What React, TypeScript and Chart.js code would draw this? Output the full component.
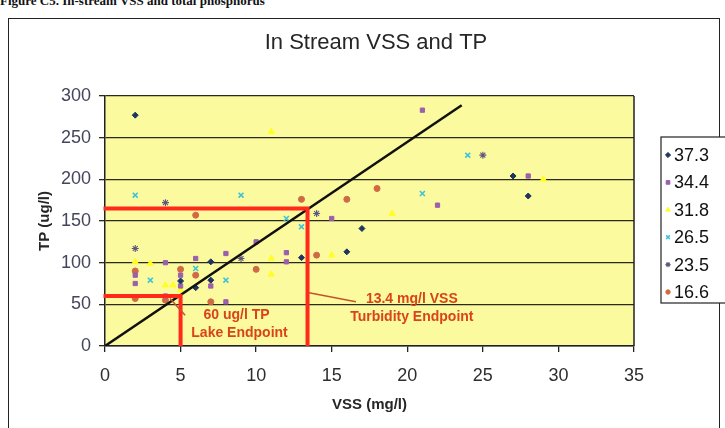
import React, { useEffect, useRef } from "react";
import { Chart, registerables } from "chart.js";
import { drawPoint } from "chart.js/helpers";

Chart.register(...registerables);

const seriesLabels = ["37.3", "34.4", "31.8", "26.5", "23.5", "16.6"];
const seriesColors = ["#1F3560", "#9A5FAE", "#FFFF20", "#3CC3DA", "#5E587E", "#CF6A45"];
const seriesStyles = ["rectRot", "rect", "triangle", "crossRot", "star", "circle"];

const s373X = [2, 27, 28, 17, 16, 13, 7, 6, 7, 5];
const s373Y = [277, 204, 180, 141, 113, 106, 101, 70, 79, 78];
const s344X = [21, 28, 22, 15, 10, 8, 12, 12, 4, 8, 5, 5, 2, 2, 4, 7, 6];
const s344Y = [283, 204, 169, 153, 125, 111, 112, 101, 100, 53, 85, 72, 85, 75, 60, 72, 105];
const s318X = [11, 29, 19, 15, 11, 11, 2, 3, 4, 4.5, 5];
const s318Y = [257, 200, 159, 109, 105, 86, 101, 99, 73, 73, 67];
const s265X = [24, 21, 9, 2, 12, 13, 8, 3, 6];
const s265Y = [229, 183, 181, 181, 153, 143, 79, 79, 93];
const s235X = [25, 14, 4, 2, 9];
const s235Y = [229, 159, 172, 117, 105];
const s166X = [18, 16, 13, 6, 14, 10, 7, 2, 2, 5, 6, 4];
const s166Y = [189, 176, 176, 157, 109, 92, 53, 57, 90, 92, 85, 55];

const seriesX = [s373X, s344X, s318X, s265X, s235X, s166X];
const seriesY = [s373Y, s344Y, s318Y, s265Y, s235Y, s166Y];

const trendX = [0, 23.6];
const trendY = [0, 289];

const lakeTP = 60;
const lakeVSS = 5;
const turbVSS = 13.4;
const turbTP = 165;

const chartTitle = "In Stream VSS and TP";
const xTitle = "VSS (mg/l)";
const yTitle = "TP (ug/l)";
const lakeText = ["60 ug/l TP", "Lake Endpoint"];
const turbText = ["13.4 mg/l VSS", "Turbidity Endpoint"];
const captionText = "Figure C5. In-stream VSS and total phosphorus";

const FONT = "'Liberation Sans', Arial, sans-serif";

const zip = (xs: number[], ys: number[]) => xs.map((x, i) => ({ x, y: ys[i] }));

const radiusFor = (s: string) => (s === "crossRot" ? 3.5 : s === "star" ? 3.5 : s === "triangle" ? 3.5 : 3);
const borderFor = (s: string) => (s === "crossRot" ? 1.6 : s === "star" ? 1.1 : 1);

const bgPlugin = {
  id: "bgPlugin",
  beforeDraw(chart: any) {
    const { ctx, chartArea: a } = chart;
    ctx.save();
    ctx.fillStyle = "#FCFA9E";
    ctx.fillRect(a.left, a.top, a.right - a.left, a.bottom - a.top);
    ctx.restore();
  },
  afterDraw(chart: any) {
    const { ctx, chartArea: a, scales } = chart;
    const xs = scales.x;
    const ys = scales.y;
    ctx.save();
    ctx.strokeStyle = "#222";
    ctx.lineWidth = 1.5;
    ctx.beginPath();
    ctx.moveTo(a.right, a.top);
    ctx.lineTo(a.right, a.bottom);
    ctx.stroke();

    ctx.fillStyle = "#262626";
    ctx.textAlign = "center";
    ctx.textBaseline = "middle";
    ctx.font = `22px ${FONT}`;
    ctx.fillText(chartTitle, 376, 43);
    ctx.font = `bold 15px ${FONT}`;
    ctx.fillText(xTitle, (a.left + a.right) / 2, 405);
    ctx.save();
    ctx.translate(45, (a.top + a.bottom) / 2);
    ctx.rotate(-Math.PI / 2);
    ctx.fillText(yTitle, 0, 0);
    ctx.restore();

    ctx.strokeStyle = "#C2532E";
    ctx.lineWidth = 1.5;
    ctx.beginPath();
    ctx.moveTo(xs.getPixelForValue(4.3), ys.getPixelForValue(57));
    ctx.lineTo(xs.getPixelForValue(5.3), ys.getPixelForValue(37));
    ctx.moveTo(xs.getPixelForValue(13.5), ys.getPixelForValue(64));
    ctx.lineTo(xs.getPixelForValue(16.6), ys.getPixelForValue(53));
    ctx.stroke();

    ctx.fillStyle = "#D9431C";
    ctx.font = `bold 14px ${FONT}`;
    ctx.fillText(lakeText[0], xs.getPixelForValue(8.7), ys.getPixelForValue(37));
    ctx.fillText(lakeText[1], xs.getPixelForValue(8.9), ys.getPixelForValue(15.5));
    ctx.fillText(turbText[0], xs.getPixelForValue(20.3), ys.getPixelForValue(56));
    ctx.fillText(turbText[1], xs.getPixelForValue(20.3), ys.getPixelForValue(35));

    const lx = 661, ly = 137, lh = 166;
    ctx.fillStyle = "#fff";
    ctx.fillRect(lx, ly, 80, lh);
    ctx.strokeStyle = "#222";
    ctx.lineWidth = 1.2;
    ctx.strokeRect(lx, ly, 80, lh);
    ctx.font = `18px ${FONT}`;
    ctx.textAlign = "left";
    seriesLabels.forEach((lab, i) => {
      const yy = 155 + i * 27.4;
      const st = seriesStyles[i];
      ctx.fillStyle = seriesColors[i];
      ctx.strokeStyle = seriesColors[i];
      ctx.lineWidth = borderFor(st);
      drawPoint(ctx, { pointStyle: st, radius: st === "circle" ? 2.2 : 2.6, rotation: 0, borderWidth: borderFor(st) } as any, 668, yy);
      ctx.fillStyle = "#111";
      ctx.fillText(lab, 674, yy + 1);
    });
    ctx.restore();
  },
};

export default function App() {
  const ref = useRef<HTMLCanvasElement | null>(null);
  useEffect(() => {
    if (!ref.current) return;
    const scatterSets = seriesLabels.map((lab, i) => ({
      type: "scatter" as const,
      label: lab,
      data: zip(seriesX[i], seriesY[i]),
      pointStyle: seriesStyles[i],
      pointRadius: radiusFor(seriesStyles[i]),
      pointBackgroundColor: seriesColors[i],
      pointBorderColor: seriesColors[i],
      pointBorderWidth: borderFor(seriesStyles[i]),
      showLine: false,
      order: 3,
    }));
    const chart = new Chart(ref.current, {
      type: "scatter",
      data: {
        datasets: [
          {
            type: "line",
            label: "lake",
            data: [
              { x: -0.1, y: lakeTP },
              { x: lakeVSS, y: lakeTP },
              { x: lakeVSS, y: 0 },
            ],
            borderColor: "#FF2A1C",
            borderWidth: 4,
            pointRadius: 0,
            fill: false,
            tension: 0,
            clip: false as any,
            order: 0,
          } as any,
          {
            type: "line",
            label: "turb",
            data: [
              { x: -0.1, y: turbTP },
              { x: turbVSS, y: turbTP },
              { x: turbVSS, y: 0 },
            ],
            borderColor: "#FF2A1C",
            borderWidth: 4,
            pointRadius: 0,
            fill: false,
            tension: 0,
            clip: false as any,
            order: 0,
          } as any,
          {
            type: "line",
            label: "trend",
            data: zip(trendX, trendY),
            borderColor: "#111",
            borderWidth: 2.5,
            pointRadius: 0,
            fill: false,
            tension: 0,
            order: 1,
          } as any,
          ...scatterSets,
        ],
      },
      options: {
        animation: false,
        responsive: false,
        maintainAspectRatio: false,
        layout: { padding: { left: 0, top: 96, right: 91, bottom: 0 } },
        plugins: {
          legend: { display: false },
          title: { display: false },
          tooltip: { enabled: false },
        },
        scales: {
          x: {
            type: "linear",
            min: 0,
            max: 35,
            ticks: { stepSize: 5, color: "#2E2E2E", font: { family: FONT, size: 18 }, padding: 13 },
            grid: { drawOnChartArea: false, drawTicks: true, tickLength: 6, color: "#222", lineWidth: 1.3 },
            border: { display: true, color: "#222", width: 1.5 },
            afterFit: (s: any) => {
              s.height = 82;
            },
          },
          y: {
            type: "linear",
            min: 0,
            max: 300,
            ticks: { stepSize: 50, color: "#45455E", font: { family: FONT, size: 18 }, padding: 8 },
            grid: { drawOnChartArea: true, drawTicks: true, tickLength: 6, color: "#2A2A1A", lineWidth: 1.3 },
            border: { display: true, color: "#222", width: 1.5 },
            afterFit: (s: any) => {
              s.width = 105;
            },
          },
        },
      } as any,
      plugins: [bgPlugin],
    });
    return () => chart.destroy();
  }, []);

  return (
    <div style={{ position: "fixed", left: 0, top: 0, width: 725, height: 428, background: "#fff", overflow: "hidden" }}>
      <div
        style={{
          position: "absolute",
          left: 0,
          top: -7,
          font: "bold 13px 'Liberation Serif', serif",
          color: "#111",
          whiteSpace: "nowrap",
        }}
      >
        {captionText}
      </div>
      <div
        style={{
          position: "absolute",
          left: 8,
          top: 18,
          width: 712,
          height: 500,
          border: "1.5px solid #222",
          boxSizing: "border-box",
        }}
      />
      <canvas ref={ref} width={725} height={428} style={{ position: "absolute", left: 0, top: 0 }} />
    </div>
  );
}
